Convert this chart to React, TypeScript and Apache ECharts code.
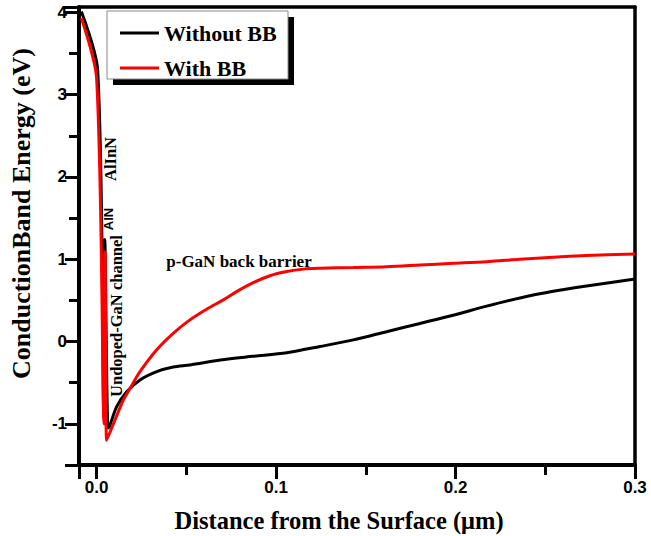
import React, { useEffect, useRef } from "react";
import * as echarts from "echarts";

// Without BB (black)
const withoutBBX = [-0.0085, 0.0006, 0.0041, 0.0046, 0.0064, 0.0072, 0.0112, 0.0168, 0.0242, 0.0335, 0.0427, 0.052, 0.069, 0.087, 0.106, 0.1245, 0.143, 0.1616, 0.1802, 0.1987, 0.2173, 0.2359, 0.2544, 0.273, 0.3];
const withoutBBY = [4.01, 3.3, -0.92, 1.24, -1.05, -1.03, -0.79, -0.61, -0.467, -0.366, -0.31, -0.285, -0.225, -0.18, -0.135, -0.06, 0.02, 0.12, 0.22, 0.32, 0.43, 0.53, 0.61, 0.675, 0.76];
const withoutBBCorners = [1, 2, 3, 4];

// With BB (red)
const withBBX = [-0.0085, 0.0, 0.0042, 0.0048, 0.0056, 0.0103, 0.0149, 0.0186, 0.0242, 0.0335, 0.0427, 0.052, 0.0613, 0.0706, 0.078, 0.0873, 0.0966, 0.1059, 0.1152, 0.1245, 0.143, 0.1616, 0.1802, 0.1987, 0.2173, 0.2359, 0.2544, 0.273, 0.3];
const withBBY = [3.93, 3.2, -1.0, 1.09, -1.2, -0.95, -0.71, -0.57, -0.366, -0.1, 0.1, 0.263, 0.393, 0.506, 0.607, 0.716, 0.8, 0.85, 0.88, 0.89, 0.9, 0.91, 0.93, 0.95, 0.97, 1.0, 1.025, 1.045, 1.065];
const withBBCorners = [1, 2, 3, 4];

const seriesNames = ["Without BB", "With BB"];
const seriesColors = ["#000000", "#ff0000"];

const xTitle = "Distance from the Surface (\u03bcm)";
const yTitle = "ConductionBand Energy (eV)";
const layerLabels = ["AlInN", "AlN", "Undoped-GaN channel", "p-GaN back barrier"];

const SERIF = "'Liberation Serif', 'Times New Roman', serif";
const SANS = "'Liberation Sans', Arial, sans-serif";

// repeat corner points so the smoothed line keeps sharp corners there
function buildData(xs: number[], ys: number[], corners: number[]) {
  const out: number[][] = [];
  xs.forEach((x, i) => {
    out.push([x, ys[i]]);
    if (corners.indexOf(i) >= 0) out.push([x, ys[i]]);
  });
  return out;
}

function isMultiple(v: number, step: number) {
  const r = v / step;
  return Math.abs(r - Math.round(r)) < 1e-6;
}

export default function App() {
  const ref = useRef<HTMLDivElement>(null);

  useEffect(() => {
    if (!ref.current) return;
    const chart = echarts.init(ref.current, undefined, { renderer: "svg" });

    const xMin = -0.0098;
    const xMax = 0.3;
    const yMin = -1.5;
    const yMax = 4.065;

    const tickStyle = { color: "#000", width: 3 };
    const frameLine = { show: true, onZero: false, lineStyle: { color: "#000", width: 3.5 } };

    const option: any = {
      animation: false,
      grid: { left: 79, right: 16, top: 7, bottom: 71 },
      xAxis: [
        {
          type: "value",
          min: xMin,
          max: xMax,
          splitNumber: 3,
          position: "bottom",
          splitLine: { show: false },
          axisLine: { show: true, onZero: false, lineStyle: { color: "#000", width: 4 } },
          axisTick: { show: true, inside: false, length: 14, lineStyle: tickStyle },
          axisLabel: {
            formatter: (v: number) => (isMultiple(v, 0.1) ? v.toFixed(1) : ""),
            fontSize: 17,
            fontWeight: "bold",
            fontFamily: SANS,
            color: "#000",
            margin: 14,
          },
        },
        {
          type: "value",
          min: xMin,
          max: xMax,
          splitNumber: 6,
          position: "bottom",
          splitLine: { show: false },
          axisLine: { show: false, onZero: false },
          axisTick: { show: true, inside: false, length: 10, lineStyle: tickStyle },
          axisLabel: { show: false },
        },
        {
          type: "value",
          min: xMin,
          max: xMax,
          position: "top",
          splitLine: { show: false },
          axisLine: frameLine,
          axisTick: { show: false },
          axisLabel: { show: false },
        },
      ],
      yAxis: [
        {
          type: "value",
          min: yMin,
          max: yMax,
          splitNumber: 5,
          position: "left",
          splitLine: { show: false },
          axisLine: { show: true, onZero: false, lineStyle: { color: "#000", width: 4 } },
          axisTick: { show: true, inside: false, length: 14, lineStyle: tickStyle },
          axisLabel: {
            formatter: (v: number) => (isMultiple(v, 1) ? String(Math.round(v)) : ""),
            fontSize: 17,
            fontWeight: "bold",
            fontFamily: SANS,
            color: "#000",
            margin: 12,
          },
        },
        {
          type: "value",
          min: yMin,
          max: yMax,
          interval: 0.5,
          position: "left",
          splitLine: { show: false },
          axisLine: { show: false, onZero: false },
          axisTick: { show: true, inside: false, length: 10, lineStyle: tickStyle },
          axisLabel: { show: false },
        },
        {
          type: "value",
          min: yMin,
          max: yMax,
          position: "right",
          splitLine: { show: false },
          axisLine: frameLine,
          axisTick: { show: false },
          axisLabel: { show: false },
        },
      ],
      legend: {
        data: seriesNames,
        orient: "vertical",
        left: 120,
        top: 22,
        padding: 0,
        itemGap: 13,
        itemWidth: 39,
        itemHeight: 3,
        icon: "rect",
        z: 20,
        textStyle: {
          fontSize: 22,
          lineHeight: 22,
          fontWeight: "bold",
          fontFamily: SERIF,
          color: "#000",
        },
      },
      series: [
        {
          name: seriesNames[0],
          type: "line",
          xAxisIndex: 0,
          yAxisIndex: 0,
          data: buildData(withoutBBX, withoutBBY, withoutBBCorners),
          showSymbol: false,
          symbol: "none",
          smooth: 0.3,
          lineStyle: { color: seriesColors[0], width: 3 },
          itemStyle: { color: seriesColors[0] },
          z: 3,
        },
        {
          name: seriesNames[1],
          type: "line",
          xAxisIndex: 0,
          yAxisIndex: 0,
          data: buildData(withBBX, withBBY, withBBCorners),
          showSymbol: false,
          symbol: "none",
          smooth: 0.3,
          lineStyle: { color: seriesColors[1], width: 3 },
          itemStyle: { color: seriesColors[1] },
          z: 4,
        },
      ],
      graphic: [
        // legend shadow and box
        { type: "rect", z: 10, shape: { x: 113, y: 17, width: 181, height: 68 }, style: { fill: "#000" } },
        { type: "rect", z: 11, shape: { x: 107, y: 11, width: 181, height: 68 }, style: { fill: "#fff", stroke: "#8a8a8a", lineWidth: 1 } },
        // axis titles
        {
          type: "text",
          z: 12,
          x: 339,
          y: 520,
          style: { text: xTitle, fontSize: 24.5, fontWeight: "bold", fontFamily: SERIF, fill: "#000", align: "center", verticalAlign: "middle" },
        },
        {
          type: "text",
          z: 12,
          x: 21.5,
          y: 213.5,
          rotation: Math.PI / 2,
          style: { text: yTitle, fontSize: 26, fontWeight: "bold", fontFamily: SERIF, fill: "#000", align: "center", verticalAlign: "middle" },
        },
        // layer annotations
        {
          type: "text",
          z: 12,
          x: 110,
          y: 159,
          rotation: Math.PI / 2,
          style: { text: layerLabels[0], fontSize: 16.5, fontWeight: "bold", fontFamily: SERIF, fill: "#000", align: "center", verticalAlign: "middle" },
        },
        {
          type: "text",
          z: 12,
          x: 108.5,
          y: 219,
          rotation: Math.PI / 2,
          style: { text: layerLabels[1], fontSize: 13, fontWeight: "bold", fontFamily: SANS, fill: "#000", align: "center", verticalAlign: "middle" },
        },
        {
          type: "text",
          z: 12,
          x: 116.5,
          y: 316,
          rotation: Math.PI / 2,
          style: { text: layerLabels[2], fontSize: 16.5, fontWeight: "bold", fontFamily: SERIF, fill: "#000", align: "center", verticalAlign: "middle" },
        },
        {
          type: "text",
          z: 12,
          x: 239,
          y: 261,
          style: { text: layerLabels[3], fontSize: 17, fontWeight: "bold", fontFamily: SERIF, fill: "#000", align: "center", verticalAlign: "middle" },
        },
      ],
    };

    chart.setOption(option);
    return () => {
      chart.dispose();
    };
  }, []);

  return (
    <div
      ref={ref}
      style={{ position: "fixed", left: 0, top: 0, width: 651, height: 536, background: "#fff" }}
    />
  );
}
